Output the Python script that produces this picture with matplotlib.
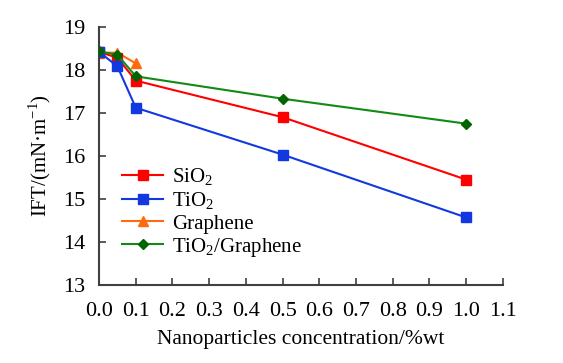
import matplotlib
matplotlib.use("Agg")
import matplotlib.pyplot as plt

plt.rcParams['font.family'] = ['Liberation Serif', 'DejaVu Serif']
plt.rcParams['mathtext.fontset'] = 'custom'
plt.rcParams['mathtext.rm'] = 'Liberation Serif'

conc_main = [0.0, 0.05, 0.1, 0.5, 1.0]
conc_graphene = [0.0, 0.05, 0.1]
sio2 = [18.42, 18.28, 17.75, 16.90, 15.45]
tio2 = [18.42, 18.08, 17.12, 16.03, 14.57]
graphene = [18.40, 18.40, 18.15]
tio2_graphene = [18.43, 18.35, 17.85, 17.33, 16.75]
xticks = [0.0, 0.1, 0.2, 0.3, 0.4, 0.5, 0.6, 0.7, 0.8, 0.9, 1.0, 1.1]
yticks = [13, 14, 15, 16, 17, 18, 19]

fig = plt.figure(figsize=(5.63, 3.63), dpi=100)
ax = fig.add_axes([0.176, 0.215, 0.717, 0.711])

ax.plot(conc_main, sio2, color='#FF0000', marker='s', ms=7, lw=1.5, label='SiO$_2$', zorder=3)
ax.plot(conc_main, tio2, color='#1238E0', marker='s', ms=7, lw=1.5, label='TiO$_2$', zorder=3)
ax.plot(conc_graphene, graphene, color='#FF6A10', marker='^', ms=7, lw=1.5, label='Graphene', zorder=2)
ax.plot(conc_main, tio2_graphene, color='#138A13', marker='D', ms=5.5, lw=1.5,
        markerfacecolor='#006400', markeredgecolor='#006400', label='TiO$_2$/Graphene', zorder=4)

ax.set_xlim(0, 1.1)
ax.set_ylim(13, 19)
ax.set_xticks(xticks)
ax.set_xticklabels([f"{v:.1f}" for v in xticks])
ax.set_yticks(yticks)
ax.tick_params(direction='in', length=5, width=1.2, labelsize=16, color='#404040')
ax.tick_params(axis='x', pad=12)
ax.tick_params(axis='y', pad=10)
for s in ['top', 'right']:
    ax.spines[s].set_visible(False)
for s in ['left', 'bottom']:
    ax.spines[s].set_color('#404040')
    ax.spines[s].set_linewidth(1.5)

ax.set_xlabel('Nanoparticles concentration/%wt', fontsize=15.5, labelpad=7)
ax.set_ylabel('IFT/(mN·m$^{-1}$)', fontsize=15, labelpad=7)

ax.legend(loc='lower left', bbox_to_anchor=(0.02, 0.045), frameon=False, fontsize=15,
          handlelength=2.0, handletextpad=0.4, labelspacing=0.1, borderpad=0.2)

fig.savefig('out.png', dpi=100)
